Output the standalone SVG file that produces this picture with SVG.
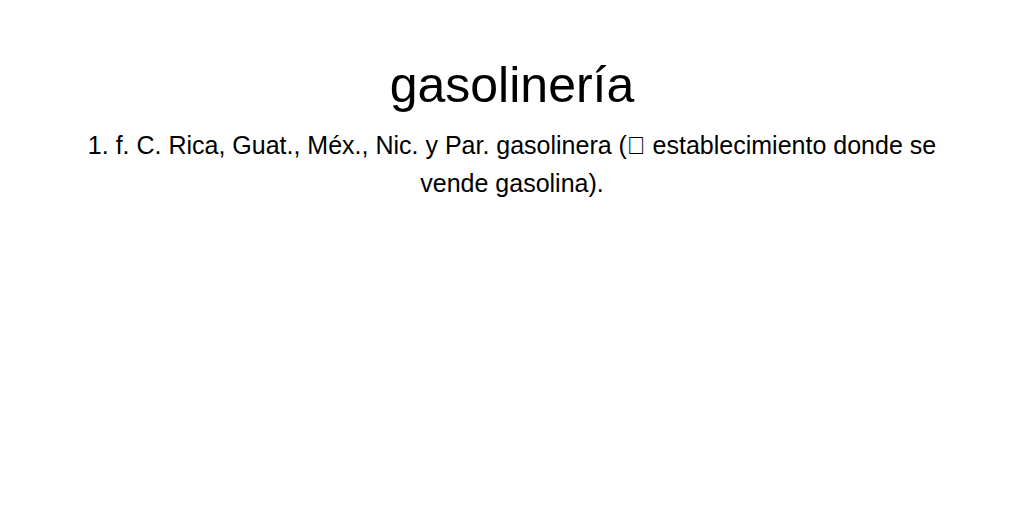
<svg xmlns="http://www.w3.org/2000/svg" width="1024" height="512" viewBox="0 0 1024 512">
<style>
text{font-family:"Liberation Sans",Arial,sans-serif;fill:#000;text-anchor:middle}
.t{font-size:50px}
.b{font-size:25px}
</style>
<rect width="1024" height="512" fill="#fff"/>
<g id="title"><text class="t" x="512" y="102">gasolinería</text></g>
<g id="definition">
<text class="b" x="512" y="154">1. f. C. Rica, Guat., Méx., Nic. y Par. gasolinera (&#xE000; establecimiento donde se</text>
<text class="b" x="512" y="192">vende gasolina).</text>
</g>
</svg>
